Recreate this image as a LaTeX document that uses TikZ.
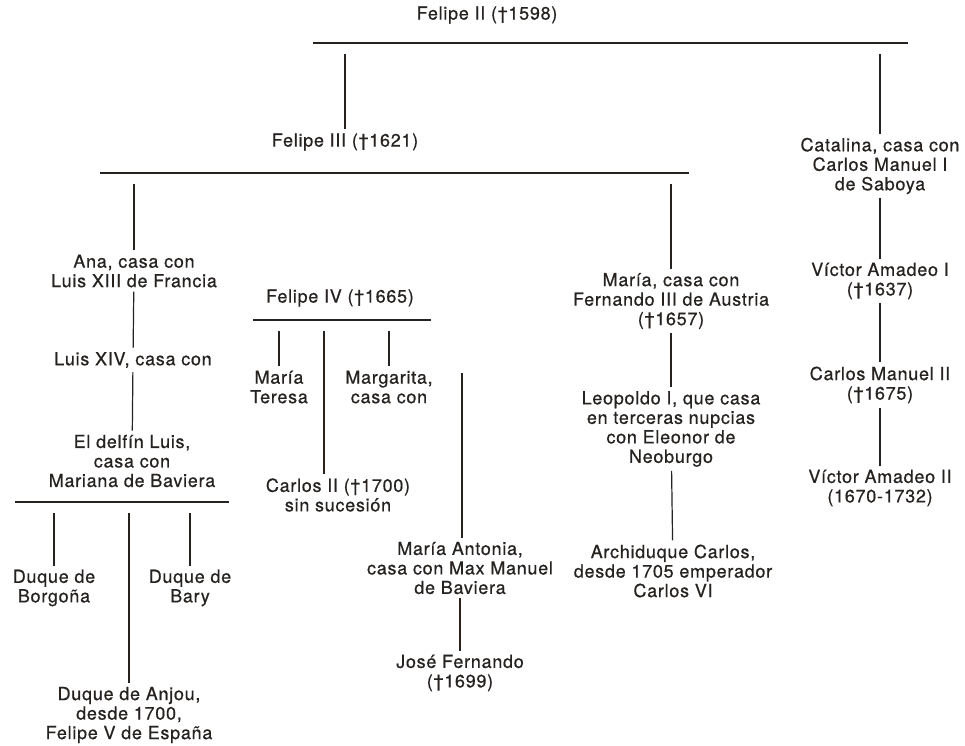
\documentclass[tikz,border=0pt]{standalone}
\usepackage{fontspec}
\setmainfont{TeX Gyre Heros}[LetterSpace=4,FakeBold=0.6]
\definecolor{ink}{RGB}{38,34,32}
\tikzset{
  pers/.style={align=center, inner sep=4pt, text=ink, font=\fontsize{18}{19.5}\selectfont},
  famline/.style={draw=ink, line width=2.4pt},
  desc/.style={draw=ink, line width=1.2pt},
  frombar/.style={desc, shorten >=11pt},
}
\begin{document}
\begin{tikzpicture}[x=1pt,y=-1pt]
  \useasboundingbox (0,0) rectangle (965,745);
  % Felipe II and his children
  \node[pers] (felipeII) at (487,15) {Felipe II (†1598)};
  \coordinate (b1w) at (313,43); \coordinate (b1e) at (908,43);
  \draw[famline] (b1w) -- (b1e);
  \node[pers] (felipeIII) at (345,142) {Felipe III (†1621)};
  \node[pers] (catalina) at (880,166) {Catalina, casa con\\Carlos Manuel I\\de Saboya};
  % Saboya line
  \node[pers] (victorI) at (880,281) {Víctor Amadeo I\\(†1637)};
  \node[pers] (carlosMII) at (880,385) {Carlos Manuel II\\(†1675)};
  \node[pers] (victorII) at (880,488) {Víctor Amadeo II\\(1670-1732)};
  % children of Felipe III
  \coordinate (b2w) at (100,173); \coordinate (b2e) at (689,173);
  \draw[famline] (b2w) -- (b2e);
  \node[pers] (ana) at (134,271) {Ana, casa con\\Luis XIII de Francia};
  \node[pers] (luisXIV) at (133,360) {Luis XIV, casa con};
  \node[pers] (delfin) at (132,461) {El delfín Luis,\\casa con\\Mariana de Baviera};
  \node[pers] (maria) at (671,301) {María, casa con\\Fernando III de Austria\\(†1657)};
  \node[pers] (leopoldo) at (671,429) {Leopoldo I, que casa\\en terceras nupcias\\con Eleonor de\\Neoburgo};
  \node[pers] (archiduque) at (673,571) {Archiduque Carlos,\\desde 1705 emperador\\Carlos VI};
  % Felipe IV and his children
  \node[pers] (felipeIV) at (340,298) {Felipe IV (†1665)};
  \coordinate (b3w) at (253,320); \coordinate (b3e) at (431,320);
  \draw[famline] (b3w) -- (b3e);
  \node[pers] (mariaTeresa) at (279,387) {María\\Teresa};
  \node[pers] (margarita) at (389,387) {Margarita,\\casa con};
  \node[pers] (carlosII) at (338,495) {Carlos II (†1700)\\sin sucesión};
  \node[pers] (mariaAntonia) at (460,568) {María Antonia,\\casa con Max Manuel\\de Baviera};
  \node[pers] (jose) at (460,673) {José Fernando\\(†1699)};
  % children of the delfin
  \coordinate (b4w) at (15,502); \coordinate (b4e) at (229,502);
  \draw[famline] (b4w) -- (b4e);
  \node[pers] (borgona) at (54,588) {Duque de\\Borgoña};
  \node[pers] (bary) at (190,588) {Duque de\\Bary};
  \node[pers] (anjou) at (129,715) {Duque de Anjou,\\desde 1700,\\Felipe V de España};

  \draw[frombar] (felipeIII) -- (felipeIII |- b1w);
  \draw[frombar] (catalina) -- (catalina |- b1w);
  \draw[desc] (catalina) -- (victorI);
  \draw[desc] (victorI) -- (carlosMII);
  \draw[desc] (carlosMII) -- (victorII);
  \draw[frombar] (ana) -- (ana |- b2w);
  \draw[desc] (ana) -- (luisXIV);
  \draw[desc] (luisXIV) -- (delfin);
  \draw[frombar] (maria) -- (maria |- b2w);
  \draw[desc] (maria) -- (leopoldo);
  \draw[desc] (leopoldo) -- (archiduque);
  \draw[frombar] (mariaTeresa) -- (mariaTeresa |- b3w);
  \draw[frombar] ([xshift=-14pt]carlosII.north) -- ([xshift=-14pt]carlosII.north |- b3w);
  \draw[frombar] (margarita) -- (margarita |- b3w);
  \coordinate (maTop) at (462,373);
  \draw[desc] (maTop) -- (maTop |- mariaAntonia.north);
  \draw[desc] (mariaAntonia) -- (jose);
  \draw[frombar] (borgona) -- (borgona |- b4w);
  \draw[frombar] (anjou) -- (anjou |- b4w);
  \draw[frombar] (bary) -- (bary |- b4w);
\end{tikzpicture}
\end{document}
